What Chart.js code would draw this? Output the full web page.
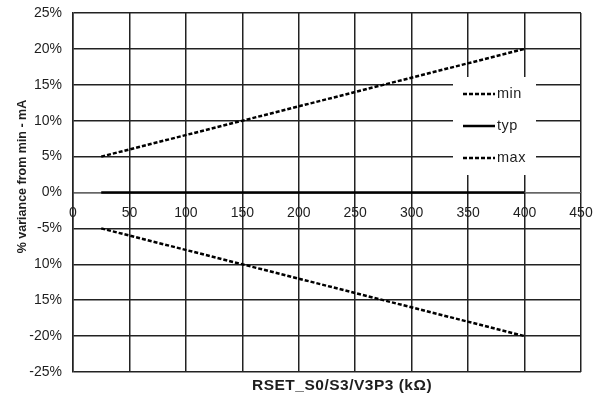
<!DOCTYPE html>
<html>
<head>
<meta charset="utf-8">
<script src="https://cdn.jsdelivr.net/npm/chart.js@4.4.1/dist/chart.umd.min.js"></script>
<style>
  html, body { margin: 0; padding: 0; background: #fff; }
  #wrap { width: 593px; height: 396px; position: relative; }
</style>
</head>
<body>
<div id="wrap"><canvas id="c"></canvas></div>
<script>
// ---- data ----
const rsetValues = [25, 400];
const minValues = [-5, -20];
const typValues = [0, 0];
const maxValues = [5, 20];
const seriesNames = ['min', 'typ', 'max'];
const xTicks = [0, 50, 100, 150, 200, 250, 300, 350, 400, 450];
const yTickValues = [25, 20, 15, 10, 5, 0, -5, -10, -15, -20, -25];
const yTickLabels = ['25%', '20%', '15%', '10%', '5%', '0%', '-5%', '10%', '15%', '-20%', '-25%'];
const xTitle = 'RSET_S0/S3/V3P3 (kΩ)';
const yTitle = '% variance from min - mA';

const toPts = (ys) => rsetValues.map((x, i) => ({ x: x, y: ys[i] }));
const FONT = 'Arial, "Liberation Sans", sans-serif';
const GRID = '#222';
const TEXT = '#1e1e1e';

const extrasPlugin = {
  id: 'extras',
  afterDraw(chart) {
    const ctx = chart.ctx;
    const a = chart.chartArea;
    ctx.save();
    // legend box
    const bx = a.right - 128, by = a.top + 64, bw = 83, bh = 98;
    ctx.fillStyle = '#fff';
    ctx.fillRect(bx, by, bw, bh);
    const ys = [by + 17, by + 49, by + 81];
    chart.data.datasets.forEach((ds, i) => {
      ctx.strokeStyle = ds.borderColor;
      ctx.lineWidth = ds.borderWidth;
      ctx.setLineDash(ds.borderDash || []);
      ctx.beginPath();
      ctx.moveTo(bx + 10, ys[i]);
      ctx.lineTo(bx + 42, ys[i]);
      ctx.stroke();
      ctx.setLineDash([]);
      ctx.fillStyle = TEXT;
      ctx.font = '14.5px ' + FONT;
      try { ctx.letterSpacing = '0.5px'; } catch (e) {}
      ctx.textAlign = 'left';
      ctx.textBaseline = 'middle';
      ctx.fillText(ds.label, bx + 44, ys[i]);
    });
    // x axis title
    ctx.fillStyle = TEXT;
    ctx.font = 'bold 15.5px ' + FONT;
    try { ctx.letterSpacing = '0.5px'; } catch (e) {}
    ctx.textAlign = 'center';
    ctx.textBaseline = 'alphabetic';
    ctx.fillText(xTitle, (a.left + a.right) / 2 + 15, a.bottom + 18);
    // y axis title
    try { ctx.letterSpacing = '0px'; } catch (e) {}
    ctx.font = 'bold 12.5px ' + FONT;
    ctx.translate(a.left - 47.5, (a.top + a.bottom) / 2 - 16);
    ctx.rotate(-Math.PI / 2);
    ctx.textAlign = 'center';
    ctx.textBaseline = 'alphabetic';
    ctx.fillText(yTitle, 0, 0);
    ctx.restore();
  }
};

new Chart(document.getElementById('c'), {
  type: 'scatter',
  data: {
    datasets: [
      { label: seriesNames[0], data: toPts(minValues), showLine: true, borderColor: '#000', borderWidth: 2.5, borderDash: [4, 2], pointRadius: 0, fill: false },
      { label: seriesNames[1], data: toPts(typValues), showLine: true, borderColor: '#000', borderWidth: 2.5, pointRadius: 0, fill: false },
      { label: seriesNames[2], data: toPts(maxValues), showLine: true, borderColor: '#000', borderWidth: 2.5, borderDash: [4, 2], pointRadius: 0, fill: false }
    ]
  },
  options: {
    responsive: true,
    maintainAspectRatio: false,
    animation: false,
    devicePixelRatio: 1,
    layout: { padding: { top: 13, right: 12, left: 0, bottom: 24 } },
    plugins: { legend: { display: false }, tooltip: { enabled: false }, title: { display: false } },
    scales: {
      x: {
        type: 'linear',
        min: 0, max: 450,
        position: { y: 0 },
        afterBuildTicks: (s) => { s.ticks = xTicks.map(v => ({ value: v })); },
        ticks: { color: TEXT, font: { family: FONT, size: 14 }, padding: 12, maxRotation: 0, autoSkip: false },
        grid: { color: GRID, lineWidth: 1.5, drawTicks: false },
        border: { display: true, color: '#666', width: 1 },
        afterFit: (s) => { s.paddingLeft = 0; s.paddingRight = 0; }
      },
      y: {
        type: 'linear',
        min: -25, max: 25,
        position: 'left',
        afterBuildTicks: (s) => { s.ticks = yTickValues.map(v => ({ value: v })); },
        ticks: {
          color: TEXT, font: { family: FONT, size: 14 }, padding: 11,
          callback: (v) => { const i = yTickValues.indexOf(v); return i >= 0 ? yTickLabels[i] : ''; }
        },
        grid: { color: GRID, lineWidth: 1.5, drawTicks: false },
        border: { display: true, color: GRID, width: 1.5 },
        afterFit: (s) => { s.width = 73; s.paddingTop = 0; s.paddingBottom = 0; }
      }
    }
  },
  plugins: [extrasPlugin]
});
</script>
</body>
</html>
